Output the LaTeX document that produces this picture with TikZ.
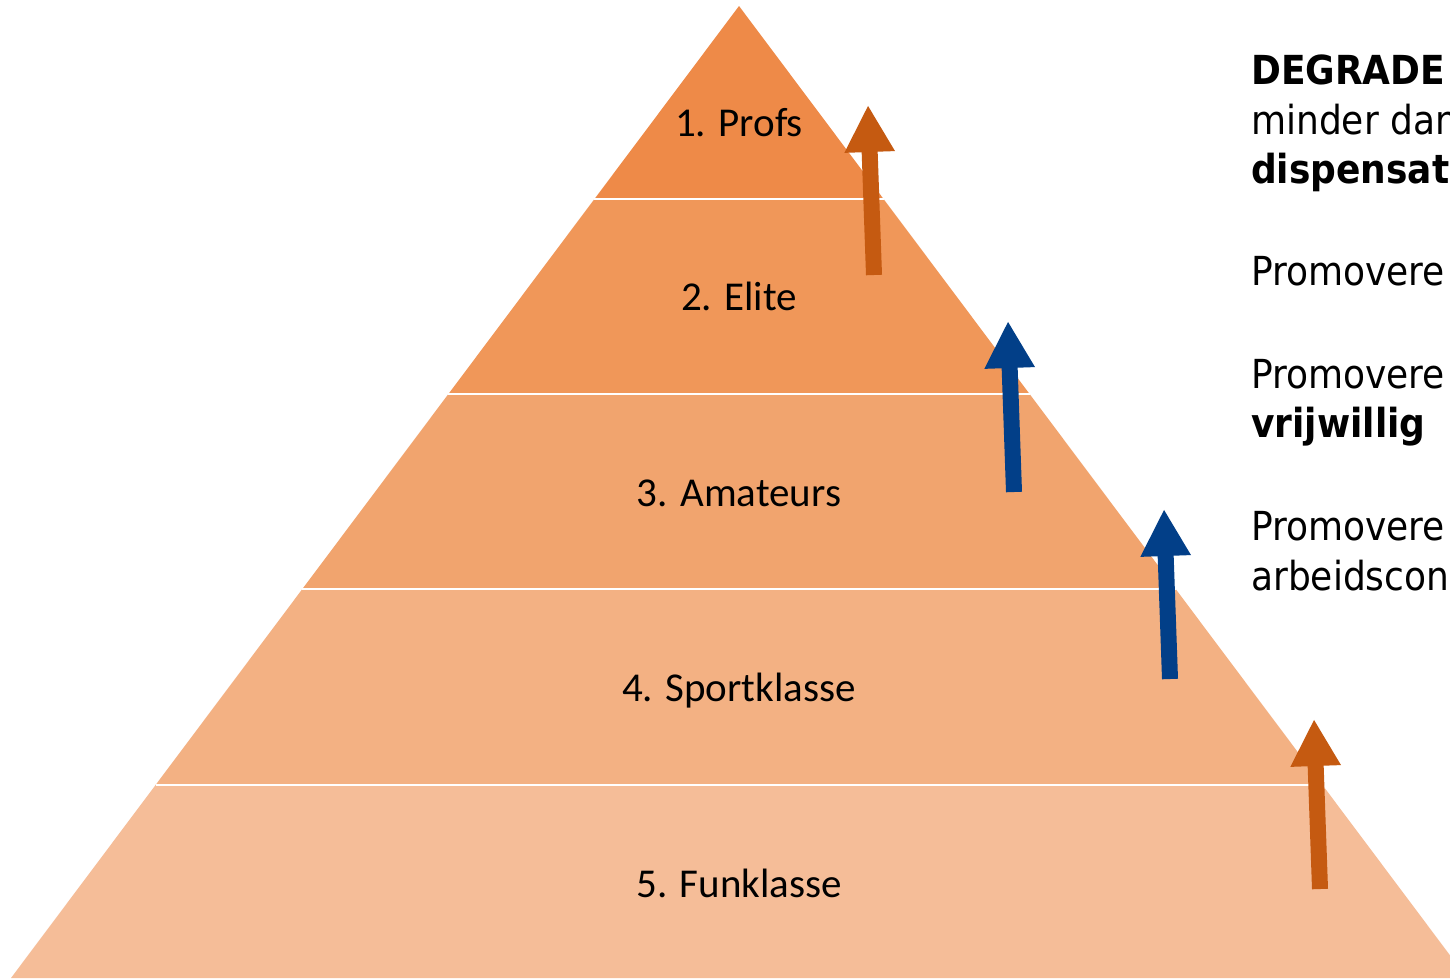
\documentclass[tikz,border=0pt]{standalone}
\usepackage{fontspec}
\setmainfont{Carlito}
\newfontfamily\rightfont[FakeStretch=0.9]{DejaVu Sans}
\usetikzlibrary{calc,arrows.meta}
\definecolor{bandA}{HTML}{EE8A48}
\definecolor{bandB}{HTML}{F09759}
\definecolor{bandC}{HTML}{F1A46E}
\definecolor{bandD}{HTML}{F3B183}
\definecolor{bandE}{HTML}{F5BD98}
\definecolor{arrOrange}{HTML}{C55A11}
\definecolor{arrBlue}{HTML}{023F88}
\tikzset{
  level/.style={font=\fontsize{41}{48}\selectfont, anchor=base, inner sep=0pt},
  sep/.style={white, line width=2.5pt},
  uparrow/.style={line width=16pt, -{Triangle[length=47pt,width=47pt]}},
  side/.style={font=\rightfont\fontsize{40}{50}\selectfont, anchor=base west, inner sep=0pt},
}
\begin{document}
\begin{tikzpicture}[x=1pt,y=-1pt]
\useasboundingbox (0,0) rectangle (1450,978);
\clip (0,0) rectangle (1450,978);
\fill[white] (0,0) rectangle (1450,978);
\coordinate (apex) at (739,6);
\coordinate (BL) at (11,978);
\coordinate (BR) at (1467,978);
\foreach \i/\t in {1/0.1986,2/0.3992,3/0.5998,4/0.8014}{
  \coordinate (L\i) at ($(apex)!\t!(BL)$);
  \coordinate (R\i) at ($(apex)!\t!(BR)$);
}
\fill[bandA] (apex) -- (R1) -- (L1) -- cycle;
\fill[bandB] (L1) -- (R1) -- (R2) -- (L2) -- cycle;
\fill[bandC] (L2) -- (R2) -- (R3) -- (L3) -- cycle;
\fill[bandD] (L3) -- (R3) -- (R4) -- (L4) -- cycle;
\fill[bandE] (L4) -- (R4) -- (BR) -- (BL) -- cycle;
\foreach \i in {1,2,3,4}{ \draw[sep] (L\i) -- (R\i); }
\node[level] (n1) at (739,136) {1. Profs};
\node[level] (n2) at (739,310) {2. Elite};
\node[level] (n3) at (739,506) {3. Amateurs};
\node[level] (n4) at (739,701) {4. Sportklasse};
\node[level] (n5) at (739,897) {5. Funklasse};
% arrows
\coordinate (a1s) at (874,275); \coordinate (a1e) at (868,105);
\coordinate (a2s) at (1014,492); \coordinate (a2e) at (1008,321);
\coordinate (a3s) at (1170,679); \coordinate (a3e) at (1164,509);
\coordinate (a4s) at (1320,889); \coordinate (a4e) at (1314,719);
\draw[uparrow, arrOrange] (a1s) -- (a1e);
\draw[uparrow, arrBlue] (a2s) -- (a2e);
\draw[uparrow, arrBlue] (a3s) -- (a3e);
\draw[uparrow, arrOrange] (a4s) -- (a4e);
% side text
\node[side] (t1) at (1251,84) {\bfseries DEGRADE};
\node[side] (t2) at (1251,134) {minder dan};
\node[side] (t3) at (1251,183) {\bfseries dispensat};
\node[side] (t4) at (1251,285) {Promovere};
\node[side] (t5) at (1251,388) {Promovere};
\node[side] (t6) at (1251,437) {\bfseries vrijwillig};
\node[side] (t7) at (1251,540) {Promovere};
\node[side] (t8) at (1251,590) {arbeidscon};
\end{tikzpicture}
\end{document}
